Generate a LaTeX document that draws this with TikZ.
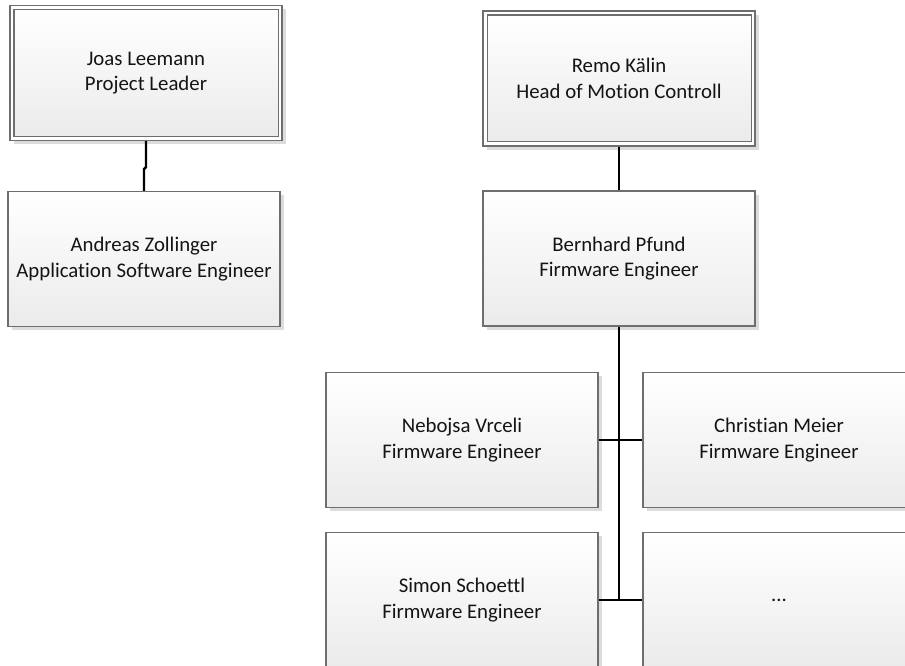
\documentclass[tikz,border=0pt]{standalone}
\usepackage{fontspec}
\setmainfont{Carlito}[Ligatures={NoCommon}]
\usetikzlibrary{shadows}
\definecolor{boxline}{HTML}{6E6E6E}
\definecolor{boxbottom}{HTML}{EBEBEB}
\definecolor{shadowgray}{HTML}{DCDCDC}
\definecolor{inktext}{HTML}{141414}
\begin{document}
\begin{tikzpicture}[x=1pt,y=-1pt,
  person/.style={draw=boxline, line width=1.1pt,
    top color=white, bottom color=boxbottom,
    minimum width=272pt, minimum height=135pt, inner sep=0pt,
    align=center, text=inktext,
    font=\fontsize{20.8}{25.5}\selectfont,
    drop shadow={shadow xshift=3.5pt, shadow yshift=-3.5pt, fill=shadowgray, opacity=1}},
  headbox/.style={person, top color=white, bottom color=white},
  innerframe/.style={draw=boxline, line width=1.1pt, top color=white, bottom color=boxbottom},
  caption/.style={align=center, text=inktext, font=\fontsize{20.8}{25.5}\selectfont},
  trunk/.style={line width=2.4pt, black},
  link/.style={line width=1.8pt, black}]
\useasboundingbox (0,0) rectangle (905,665);
\clip (0,0) rectangle (905,665);

% left branch
\node[headbox] (joas) at (146,73) {};
\draw[innerframe] ([shift={(4.5,4.5)}]joas.north west) rectangle ([shift={(-4.5,-4.5)}]joas.south east);
\node[caption] (joastext) at (joas.center) {Joas Leemann\\Project Leader};
\node[person] (andreas) at (144,259) {Andreas Zollinger\\Application Software Engineer};

% right branch
\node[headbox] (remo) at (619,78.5) {};
\draw[innerframe] ([shift={(5,4.5)}]remo.north west) rectangle ([shift={(-4,-5)}]remo.south east);
\node[caption] (remotext) at (remo.center) {Remo Kälin\\Head of Motion Controll};
\node[person] (bernhard) at (619,258.5) {Bernhard Pfund\\Firmware Engineer};

\node[person] (nebojsa) at (462,440) {Nebojsa Vrceli\\Firmware Engineer};
\node[person] (christian) at (779,440) {Christian Meier\\Firmware Engineer};
\node[person] (simon) at (462,600) {Simon Schoettl\\Firmware Engineer};
\node[person] (more) at (779,600) {...};

% connectors
\draw[trunk] (joas.south) -- ++(0,26) -- ++(-2,2) -- (andreas.north);
\draw[link] (remo.south) -- (bernhard.north);
\draw[trunk] (bernhard.south) -- (bernhard.south |- simon.east);
\draw[link] (nebojsa.east) -- (christian.west);
\draw[link] (simon.east) -- (more.west);
\end{tikzpicture}
\end{document}
